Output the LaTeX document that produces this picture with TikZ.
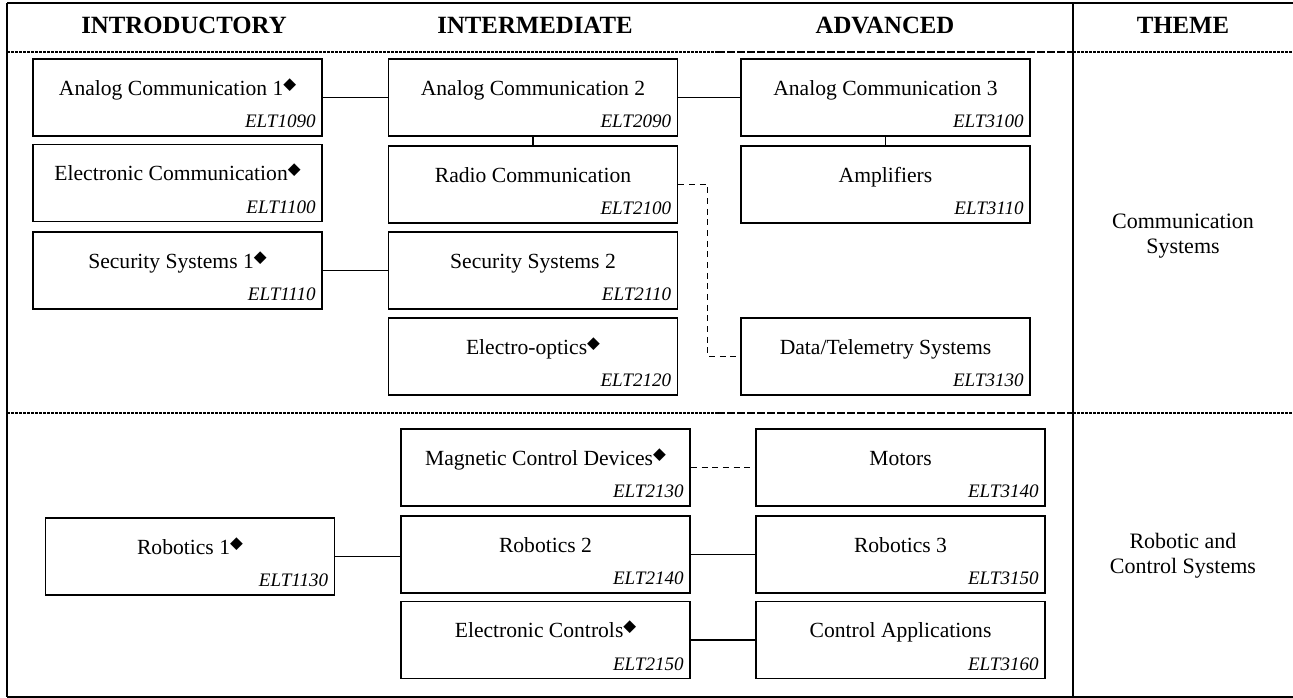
\documentclass[tikz,border=0pt]{standalone}
\usepackage{fontspec}
\setmainfont{Liberation Serif}
\newfontfamily\symfont{DejaVu Sans}
\usetikzlibrary{calc}
\tikzset{
	course/.style={draw, line width=1.4pt, minimum width=216.75pt, minimum height=57.75pt, inner sep=0pt},
	coursetitle/.style={anchor=base, inner sep=0pt, font=\fontsize{16.2}{18}\selectfont},
	coursecode/.style={anchor=base east, inner sep=0pt, font=\fontsize{14.3}{16}\selectfont\itshape},
	header/.style={anchor=base, inner sep=0pt, font=\fontsize{18.6}{21}\selectfont\bfseries},
	theme/.style={align=center, inner sep=0pt, font=\fontsize{16.5}{19}\selectfont},
	link/.style={line width=1.3pt},
	optlink/.style={line width=1.3pt, dash pattern=on 4.5pt off 3.5pt},
	frame/.style={line width=1.7pt},
	rowfine/.style={line width=1.5pt, dash pattern=on 2pt off 1pt},
	rowcoarse/.style={line width=1.5pt, dash pattern=on 6pt off 1.5pt}
}
\newcommand{\core}{\raisebox{4.5pt}{\symfont\fontsize{12.5}{12}\selectfont ◆}}
\newcommand{\course}[5]{
	\node[course] (#1) at (#2,#3) {};
	\node[coursetitle] at ($(#1.north)+(0,37)$) {#4};
	\node[coursecode] at ($(#1.south east)+(-7,-9)$) {#5};
}

\begin{document}
\begin{tikzpicture}[x=0.75pt,y=-0.75pt]
	\useasboundingbox (0,0) rectangle (1293,698);
	% frame and rows
	\draw[frame] (7,3) -- (1293,3);
	\draw[frame] (7,697) -- (1293,697);
	\draw[frame] (7,3) -- (7,697);
	\draw[frame] (1073,3) -- (1073,697);
	\foreach \y in {52,413} {
		\draw[rowfine] (7,\y) -- (717,\y);
		\draw[rowcoarse] (717,\y) -- (1073,\y);
		\draw[rowfine] (1073,\y) -- (1293,\y);
	}
	
	% headers
	\node[header] (hintro) at (184,34) {INTRODUCTORY};
	\node[header] (hinter) at (535,34) {INTERMEDIATE};
	\node[header] (hadv) at (885,34) {ADVANCED};
	\node[header] (htheme) at (1183,34) {THEME};
	
	% communication systems
	\course{ac1}{177.5}{97.5}{Analog Communication 1\core}{ELT1090}
	\course{ec}{177.5}{183}{Electronic Communication\core}{ELT1100}
	\course{ss1}{177.5}{270.5}{Security Systems 1\core}{ELT1110}
	\course{ac2}{533}{97.5}{Analog Communication 2}{ELT2090}
	\course{radio}{533}{184.5}{Radio Communication}{ELT2100}
	\course{ss2}{533}{270.5}{Security Systems 2}{ELT2110}
	\course{eo}{533}{356.5}{Electro-optics\core}{ELT2120}
	\course{ac3}{885.5}{97.5}{Analog Communication 3}{ELT3100}
	\course{amp}{885.5}{184.5}{Amplifiers}{ELT3110}
	\course{data}{885.5}{356.5}{Data/Telemetry Systems}{ELT3130}
	\node[theme] (tcomm) at (1183,236) {Communication\\Systems};
	
	\draw[link] (ac1.east) -- (ac2.west);
	\draw[link] (ac2.east) -- (ac3.west);
	\draw[link] (ac2.south) -- (radio.north);
	\draw[link] (ac3.south) -- (amp.north);
	\draw[link] (ss1.east) -- (ss2.west);
	\draw[optlink] (radio.east) -- ++(29,0) |- (data.west);
	
	% robotic and control systems
	\course{rob1}{190}{556.5}{Robotics 1\core}{ELT1130}
	\course{mag}{545.5}{467.5}{Magnetic Control Devices\core}{ELT2130}
	\course{rob2}{545.5}{554.5}{Robotics 2}{ELT2140}
	\course{ectl}{545.5}{640}{Electronic Controls\core}{ELT2150}
	\course{mot}{900.5}{467.5}{Motors}{ELT3140}
	\course{rob3}{900.5}{554.5}{Robotics 3}{ELT3150}
	\course{capp}{900.5}{640}{Control Applications}{ELT3160}
	\node[theme] (trob) at (1183,556) {Robotic and\\Control Systems};
	
	\draw[optlink] (mag.east) -- (mot.west);
	\draw[link] (rob1.east) -- (rob1.east -| rob2.west);
	\draw[link] (rob2.east) -- (rob3.west);
	\draw[link] (ectl.east) -- (capp.west);
\end{tikzpicture}
\end{document}
